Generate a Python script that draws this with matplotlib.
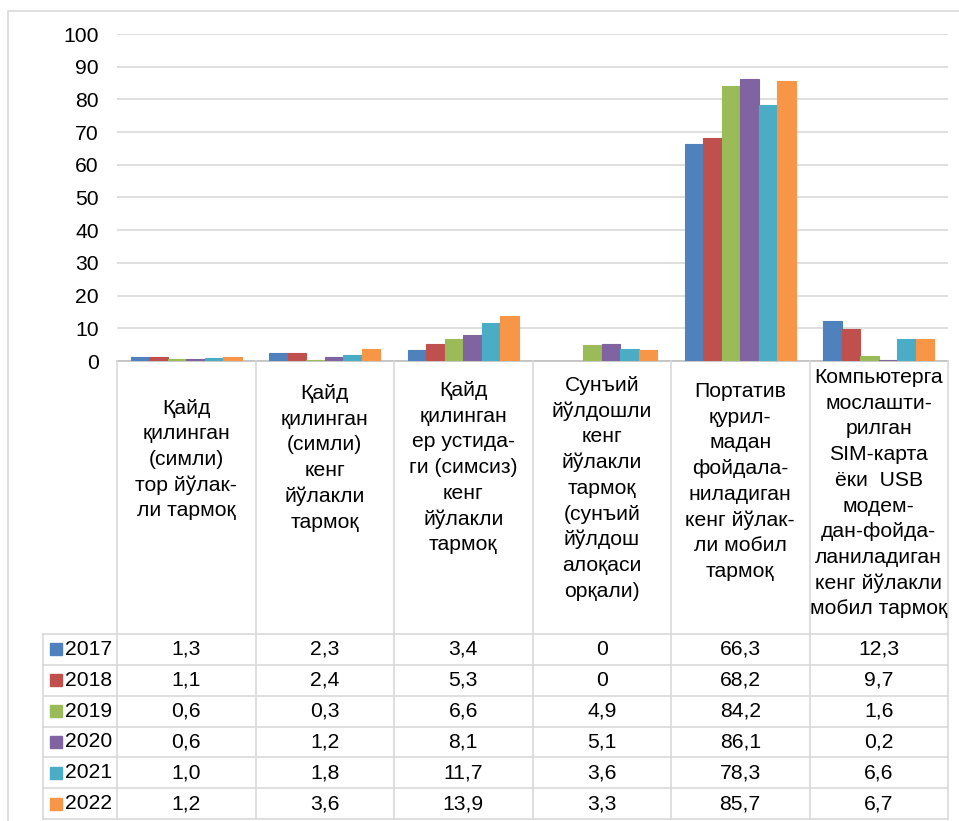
import matplotlib.pyplot as plt
import numpy as np
from matplotlib.patches import Rectangle

plt.rcParams['font.family'] = ['Liberation Sans', 'DejaVu Sans']

categories = [
    'Қайд\nқилинган\n(симли)\nтор йўлак-\nли тармоқ',
    'Қайд\nқилинган\n(симли)\nкенг\nйўлакли\nтармоқ',
    'Қайд\nқилинган\nер устида-\nги (симсиз)\nкенг\nйўлакли\nтармоқ',
    'Сунъий\nйўлдошли\nкенг\nйўлакли\nтармоқ\n(сунъий\nйўлдош\nалоқаси\nорқали)',
    'Портатив\nқурил-\nмадан\nфойдала-\nниладиган\nкенг йўлак-\nли мобил\nтармоқ',
    'Компьютерга\nмослашти-\nрилган\nSIM-карта\nёки  USB\nмодем-\nдан-фойда-\nланиладиган\nкенг йўлакли\nмобил тармоқ',
]
years = ['2017', '2018', '2019', '2020', '2021', '2022']
v2017 = [1.3, 2.3, 3.4, 0, 66.3, 12.3]
v2018 = [1.1, 2.4, 5.3, 0, 68.2, 9.7]
v2019 = [0.6, 0.3, 6.6, 4.9, 84.2, 1.6]
v2020 = [0.6, 1.2, 8.1, 5.1, 86.1, 0.2]
v2021 = [1.0, 1.8, 11.7, 3.6, 78.3, 6.6]
v2022 = [1.2, 3.6, 13.9, 3.3, 85.7, 6.7]
series = [v2017, v2018, v2019, v2020, v2021, v2022]
colors = ['#4F81BD', '#C0504D', '#9BBB59', '#8064A2', '#4BACC6', '#F79646']

W, H = 959, 821
FS = 15.2
grid_c = '#D9D9D9'

fig = plt.figure(figsize=(W / 100, H / 100), dpi=100)

# outer chart frame (cropped on right/bottom)
fig.patches.append(Rectangle((8 / W, 1 - 840 / H), 980 / W, 829 / H,
                             transform=fig.transFigure, fill=False,
                             edgecolor=grid_c, linewidth=1.2))

# bar area
ax = fig.add_axes([117 / W, 1 - 361 / H, (948 - 117) / W, (361 - 34) / H])
x = np.arange(len(categories))
n = len(series)
w = 1 / 7.5
for i, vals in enumerate(series):
    nz = [v if v > 0 else np.nan for v in vals]
    ax.bar(x + (i - (n - 1) / 2) * w, nz, w, color=colors[i],
           edgecolor=colors[i], linewidth=0.8, zorder=3)
ax.set_xlim(-0.5, len(categories) - 0.5)
ax.set_ylim(0, 100)
ax.set_yticks(range(0, 101, 10))
ax.set_xticks([])
ax.grid(axis='y', color=grid_c, linewidth=1.2, zorder=0)
for s in ['top', 'right', 'left']:
    ax.spines[s].set_visible(False)
ax.spines['bottom'].set_color('#BFBFBF')
ax.spines['bottom'].set_linewidth(1.2)
ax.spines['bottom'].set_zorder(2)
ax.tick_params(axis='y', length=0, pad=13, labelsize=FS, labelcolor='black')

# data table
tab_h = 819 - 361
tax = fig.add_axes([117 / W, 1 - 819 / H, (948 - 117) / W, tab_h / H])
tax.set_xlim(-0.5, len(categories) - 0.5)
tax.set_ylim(tab_h, 0)
tax.axis('off')

col_px = 138.5
xl = -0.5 - 74 / col_px
head_bottom = 273
row_h = (tab_h - head_bottom) / len(years)

for k in range(len(categories) + 1):
    tax.plot([k - 0.5, k - 0.5], [0, tab_h], color=grid_c, lw=1.2, clip_on=False)
tax.plot([xl, xl], [head_bottom, tab_h], color=grid_c, lw=1.2, clip_on=False)
for r in range(len(years) + 1):
    yy = head_bottom + r * row_h
    tax.plot([xl, len(categories) - 0.5], [yy, yy], color=grid_c, lw=1.2,
             clip_on=False)

# category headers
first_base = [52.5, 38, 35, 30, 36, 22]
pitch = 25.7
for c, lab in enumerate(categories):
    for j, line in enumerate(lab.split('\n')):
        tax.text(c, first_base[c] + j * pitch, line, ha='center',
                 va='baseline', fontsize=FS, color='black')

# rows
for r, (yr, vals) in enumerate(zip(years, series)):
    yc = head_bottom + (r + 0.5) * row_h
    tax.add_patch(Rectangle((-0.5 + (50 - 117) / col_px, yc - 6),
                            12 / col_px, 12, color=colors[r], clip_on=False))
    tax.text(-0.5 + (65 - 117) / col_px, yc, yr, ha='left', va='center',
             fontsize=FS, color='black')
    for c, v in enumerate(vals):
        s = '0' if v == 0 else f'{v:.1f}'.replace('.', ',')
        tax.text(c, yc, s, ha='center', va='center', fontsize=FS, color='black')

fig.savefig('out.png', dpi=100)
